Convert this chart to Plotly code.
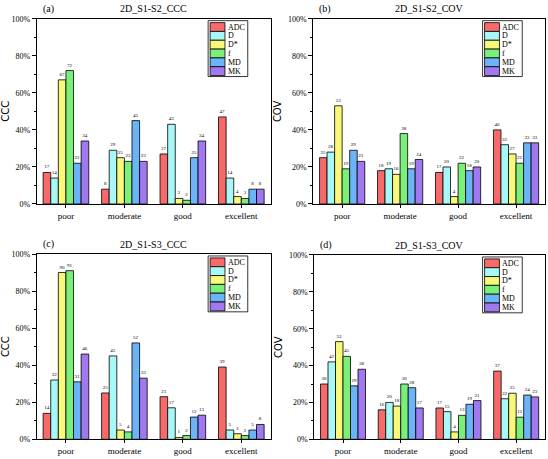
import plotly.graph_objects as go

categories = ["poor", "moderate", "good", "excellent"]
series_names = ["ADC", "D", "D*", "f", "MD", "MK"]

# values per panel: rows = series (ADC, D, D*, f, MD, MK), columns = categories
a_ccc_s1s2 = {
    "ADC": [17, 8, 27, 47],
    "D":   [14, 29, 43, 14],
    "D*":  [67, 25, 3, 4],
    "f":   [72, 23, 2, 3],
    "MD":  [22, 45, 25, 8],
    "MK":  [34, 23, 34, 8],
}
b_cov_s1s2 = {
    "ADC": [25, 18, 17, 40],
    "D":   [28, 19, 20, 32],
    "D*":  [53, 16, 4, 27],
    "f":   [19, 38, 22, 22],
    "MD":  [29, 19, 18, 33],
    "MK":  [23, 24, 20, 33],
}
c_ccc_s1s3 = {
    "ADC": [14, 25, 23, 39],
    "D":   [32, 45, 17, 5],
    "D*":  [90, 5, 1, 3],
    "f":   [91, 4, 2, 2],
    "MD":  [31, 52, 12, 5],
    "MK":  [46, 33, 13, 8],
}
d_cov_s1s3 = {
    "ADC": [30, 16, 17, 37],
    "D":   [42, 20, 15, 22],
    "D*":  [53, 18, 4, 25],
    "f":   [45, 30, 13, 12],
    "MD":  [29, 28, 19, 24],
    "MK":  [38, 17, 21, 23],
}

panels = [
    ("(a)", "2D_S1-S2_CCC", "CCC", a_ccc_s1s2),
    ("(b)", "2D_S1-S2_COV", "COV", b_cov_s1s2),
    ("(c)", "2D_S1-S3_CCC", "CCC", c_ccc_s1s3),
    ("(d)", "2D_S1-S3_COV", "COV", d_cov_s1s3),
]

colors = {
    "ADC": "#F86A6A",
    "D": "#A8F8F8",
    "D*": "#F8F87A",
    "f": "#7AF07A",
    "MD": "#6CB4F8",
    "MK": "#A078F0",
}

W, H = 548, 459
# pixel boxes for each panel: (x0, x1, ytop, ybottom)
boxes = [(32, 268, 15, 204), (311, 545, 15, 204), (32, 268, 255, 444), (312, 545, 256, 444)]

FONT = "Liberation Serif, Times New Roman, serif"

fig = go.Figure()
layout = dict(
    width=W, height=H,
    margin=dict(l=0, r=0, t=0, b=0),
    paper_bgcolor="white", plot_bgcolor="white",
    barmode="group", bargap=0.22, bargroupgap=0,
    showlegend=False,
    font=dict(family=FONT, size=8, color="black"),
)
annotations = []
shapes = []

for i, (tag, title, ylab, data) in enumerate(panels):
    n = i + 1
    xa = "x" if n == 1 else f"x{n}"
    ya = "y" if n == 1 else f"y{n}"
    x0, x1, yt, yb = boxes[i]
    for s in series_names:
        fig.add_trace(go.Bar(
            x=categories, y=data[s], name=s,
            marker=dict(color=colors[s], line=dict(color="black", width=0.8)),
            text=[str(v) for v in data[s]], textposition="outside",
            textfont=dict(size=5, color="black", family=FONT),
            cliponaxis=False,
            xaxis=xa, yaxis=ya,
        ))
    xkey = "xaxis" if n == 1 else f"xaxis{n}"
    ykey = "yaxis" if n == 1 else f"yaxis{n}"
    layout[xkey] = dict(
        domain=[x0 / W, x1 / W], anchor=ya,
        showline=True, linecolor="black", linewidth=1, mirror=True,
        ticks="outside", ticklen=3, tickcolor="black",
        tickfont=dict(size=9, family=FONT), showgrid=False,
    )
    layout[ykey] = dict(
        domain=[1 - yb / H, 1 - yt / H], anchor=xa,
        range=[0, 100], dtick=20, ticksuffix="%",
        showline=True, linecolor="black", linewidth=1, mirror=True,
        ticks="outside", ticklen=4, tickcolor="black",
        minor=dict(dtick=10, ticks="outside", ticklen=2, tickcolor="black"),
        tickfont=dict(size=8, family=FONT), showgrid=False, zeroline=False,
        title=dict(text=ylab, font=dict(size=10, family="DejaVu Sans, sans-serif"), standoff=4),
    )
    # title and tag
    annotations.append(dict(text=title, x=((x0 + x1) / 2) / W, y=1 - (yt - 10) / H,
                            xref="paper", yref="paper", showarrow=False,
                            font=dict(size=10, family=FONT), xanchor="center", yanchor="middle"))
    annotations.append(dict(text=tag, x=(x0 + 4) / W, y=1 - (yt - 10) / H,
                            xref="paper", yref="paper", showarrow=False,
                            font=dict(size=10, family=FONT), xanchor="left", yanchor="middle"))
    # manual legend
    lx0 = x1 - 63
    ly0 = yt + 2
    item_h = 9
    shapes.append(dict(type="rect", xref="paper", yref="paper",
                       x0=lx0 / W, x1=(lx0 + 40) / W,
                       y0=1 - (ly0 + 6 * item_h + 3) / H, y1=1 - ly0 / H,
                       line=dict(color="black", width=0.8), fillcolor="white", layer="above"))
    for k, s in enumerate(series_names):
        sy = ly0 + 2 + k * item_h
        shapes.append(dict(type="rect", xref="paper", yref="paper",
                           x0=(lx0 + 2) / W, x1=(lx0 + 17) / W,
                           y0=1 - (sy + item_h) / H, y1=1 - sy / H,
                           line=dict(color="black", width=0.8), fillcolor=colors[s], layer="above"))
        annotations.append(dict(text=s, x=(lx0 + 18) / W, y=1 - (sy + item_h / 2) / H,
                                xref="paper", yref="paper", showarrow=False,
                                font=dict(size=8, family=FONT), xanchor="left", yanchor="middle"))

layout["annotations"] = annotations
layout["shapes"] = shapes
fig.update_layout(**layout)
fig.write_html("out.html")
